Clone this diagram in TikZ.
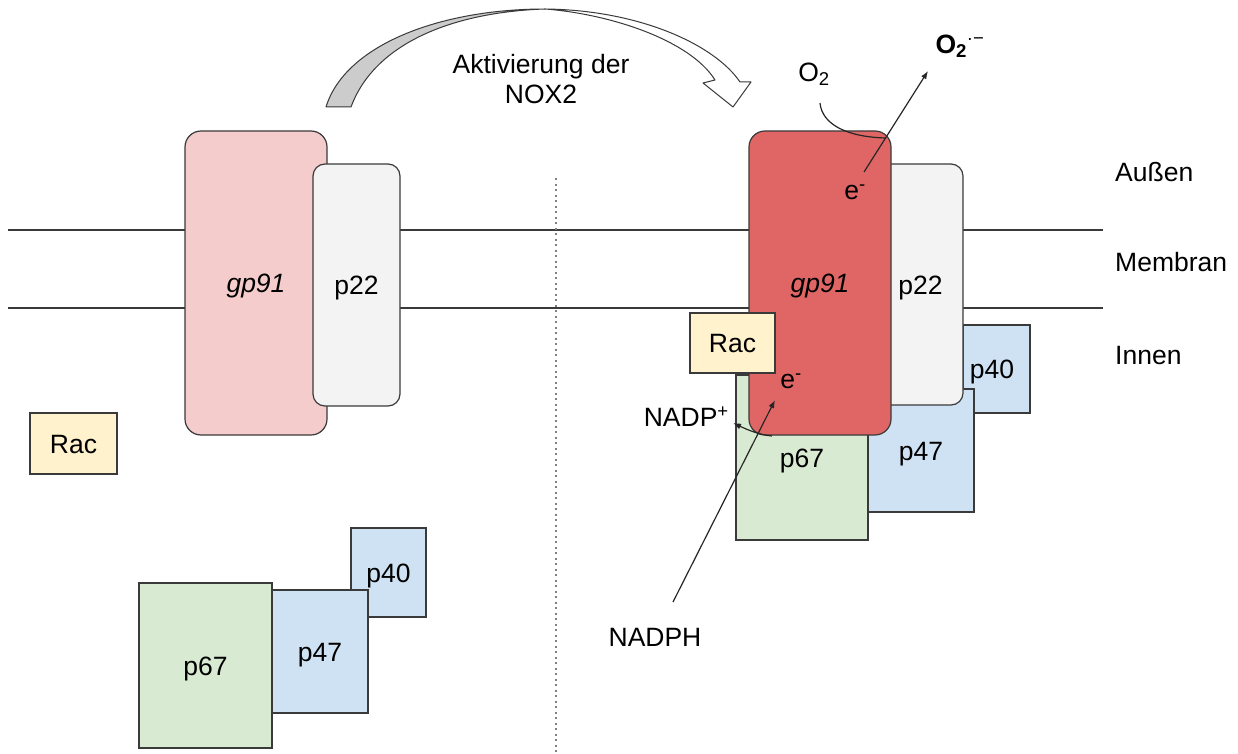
\documentclass[tikz,border=0pt]{standalone}
\usepackage{fontspec}
\setmainfont{Liberation Sans}
\usetikzlibrary{arrows.meta}
\definecolor{gpleft}{HTML}{F4CCCC}
\definecolor{gpright}{HTML}{E06666}
\definecolor{pgray}{HTML}{F3F3F3}
\definecolor{racc}{HTML}{FFF2CC}
\definecolor{greenc}{HTML}{D9EAD3}
\definecolor{bluec}{HTML}{CFE2F3}
\definecolor{arrgray}{HTML}{CCCCCC}
\definecolor{edgec}{HTML}{3A3A3A}
\newcommand\diafs{\fontsize{26.5}{30}\selectfont}
\begin{document}
\begin{tikzpicture}[x=1pt,y=-1pt,
  txt/.style={font=\diafs, text height=19pt, text depth=0pt, inner sep=0pt},
  box/.style={txt, draw=edgec, line width=1.2pt, minimum width=#1},
  box/.default=80pt,
  memb/.style={draw=edgec, line width=1.2pt},
  conn/.style={draw=black!85, line width=1.2pt},
  arr/.style={conn, -{Latex[length=8pt,width=6pt]}}
]
\useasboundingbox (0,0) rectangle (1238,754);
\fill[white] (0,0) rectangle (1238,754);

% membrane
\coordinate (mA1) at (8,230);
\coordinate (mA2) at (1103,230);
\coordinate (mB1) at (8,308);
\coordinate (mB2) at (1103,308);
\draw[memb] (mA1) -- (mA2);
\draw[memb] (mB1) -- (mB2);

% dotted separator
\coordinate (dT) at (556,178);
\coordinate (dB) at (556,754);
\draw[gray, line width=1.5pt, dash pattern=on 2pt off 3.5pt] (dT) -- (dB);

% curved activation arrow
\filldraw[fill=arrgray, draw=edgec, line width=1pt, line join=round]
  (326,107) .. controls (345,45) and (440,9) .. (545,9)
  .. controls (455,12) and (375,42) .. (351,107) -- cycle;
\filldraw[fill=white, draw=edgec, line width=1pt, line join=round]
  (545,9) .. controls (640,10) and (715,45) .. (740,82)
  -- (751,82) -- (733,107) -- (703,83) -- (715,80)
  .. controls (690,40) and (610,14) .. (545,9) -- cycle;
\node[font=\diafs, align=center, inner sep=0pt] (akt) at (541,79) {Aktivierung der\\NOX2};

% ---- left: inactive ----
\node[box=142pt, fill=gpleft, rounded corners=16pt, minimum height=304pt, font=\diafs\itshape] (gpL) at (256,283) {gp91};
\node[box=87pt, fill=pgray, rounded corners=12pt, minimum height=242pt] (p22L) at (356.5,285) {p22};
\node[box=87pt, fill=racc, minimum height=61pt] (racL) at (73.5,443.5) {Rac};
\node[box=75pt, fill=bluec, minimum height=89pt] (p40L) at (388.5,572.5) {p40};
\node[box=96pt, fill=bluec, minimum height=123pt] (p47L) at (320,651.5) {p47};
\node[box=133pt, fill=greenc, minimum height=165pt] (p67L) at (205.5,665.5) {p67};

% ---- right: active ----
\node[box=67pt, fill=bluec, minimum height=88pt] (p40R) at (996.5,369) {\hspace*{-9pt}p40};
\node[box=106pt, fill=bluec, minimum height=123pt] (p47R) at (921,450.5) {p47};
\node[box=132pt, fill=greenc, minimum height=165pt] (p67R) at (802,457.5) {p67};
\node[box=85pt, fill=pgray, rounded corners=12pt, minimum height=241pt] (p22R) at (920.5,284.5) {p22};
\node[box=142pt, fill=gpright, rounded corners=16pt, minimum height=304pt, font=\diafs\itshape] (gpR) at (820,283) {gp91};
\node[box=85pt, fill=racc, minimum height=60pt] (racR) at (732.5,343) {Rac};

% labels
\node[txt] (eTop) at (855,190) {e\textsuperscript{-}};
\node[txt] (eBot) at (791,379) {e\textsuperscript{-}};
\node[txt] (o2) at (814,72) {O\textsubscript{2}};
\node[txt] (sup) at (960,44) {\textbf{O\textsubscript{2}}\textsuperscript{·−}};
\node[txt, anchor=east] (nadpp) at (729,417) {NADP\textsuperscript{+}};
\node[txt] (nadph) at (655,637) {NADPH};
\node[txt, anchor=west] (aussen) at (1115,172) {Außen};
\node[txt, anchor=west] (membran) at (1115,262) {Membran};
\node[txt, anchor=west] (innen) at (1115,355) {Innen};

% connectors
\coordinate (a1s) at (864,172);
\coordinate (a1e) at (928,71);
\draw[arr] (a1s) -- (a1e);
\coordinate (o2s) at (820,103);
\coordinate (o2e) at (886,138);
\draw[conn] (o2s) .. controls (822,124) and (846,137) .. (o2e);
\coordinate (n1s) at (673,602);
\coordinate (n1e) at (775,400);
\draw[arr] (n1s) -- (n1e);
\coordinate (n2s) at (772,436);
\coordinate (n2e) at (733,423);
\draw[arr] (n2s) .. controls (760,435) and (748,430) .. (n2e);
\end{tikzpicture}
\end{document}
